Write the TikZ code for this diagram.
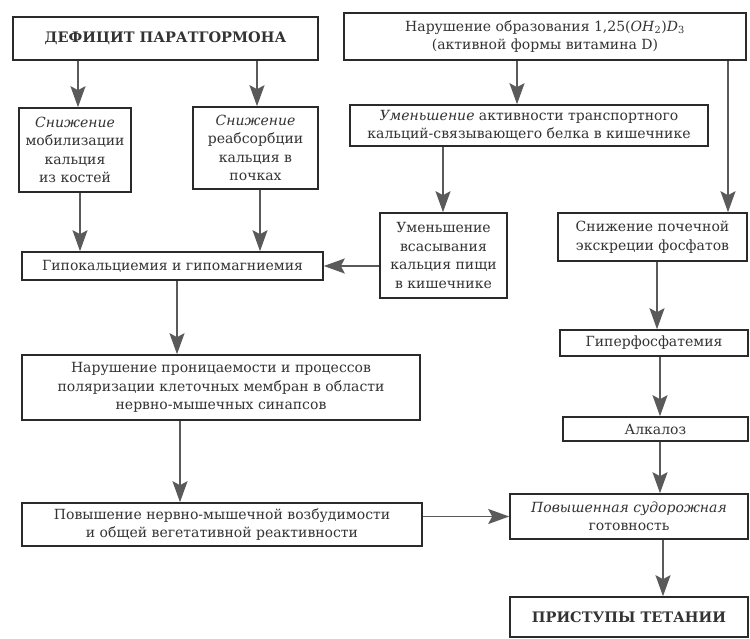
\documentclass[tikz,border=0pt]{standalone}
\usepackage{fontspec}
\setmainfont{DejaVu Serif}
\usetikzlibrary{arrows.meta}
\definecolor{ink}{HTML}{333333}
\definecolor{frame}{HTML}{2A2A2A}
\definecolor{arrowgray}{HTML}{5A5A5A}
\tikzset{
  box/.style={draw=frame, line width=1.6pt, inner sep=0pt, align=center,
    text=ink, font=\fontsize{14}{18.5}\selectfont},
  title/.style={box, font=\fontsize{14.5}{18.5}\selectfont\bfseries},
  arr/.style={draw=arrowgray, line width=1.8pt,
    -{Stealth[length=21pt, width=15pt, inset=4pt, fill=arrowgray]}},
}
\begin{document}
\begin{tikzpicture}[x=1pt, y=-1pt]
\useasboundingbox (0,0) rectangle (750,638);
\fill[white] (0,0) rectangle (750,638);

% --- boxes ---
\node[title, minimum width=305, minimum height=43] (A) at (165.5,38.5) {ДЕФИЦИТ ПАРАТГОРМОНА};
\node[box, minimum width=402, minimum height=47] (B) at (545,36.5)
  {Нарушение образования 1,25(\textit{OH}\textsubscript{2})\textit{D}\textsubscript{3}\\(активной формы витамина D)};
\node[box, minimum width=112, minimum height=84] (C) at (75,150)
  {\textit{Снижение}\\мобилизации\\кальция\\из костей};
\node[box, minimum width=125, minimum height=82] (D) at (255.5,148)
  {\textit{Снижение}\\реабсорбции\\кальция в\\почках};
\node[box, minimum width=358, minimum height=41] (E) at (529,125.5)
  {\textit{Уменьшение} активности транспортного\\кальций-связывающего белка в кишечнике};
\node[box, minimum width=127, minimum height=85] (F) at (443.5,255.5)
  {Уменьшение\\всасывания\\кальция пищи\\в кишечнике};
\node[box, minimum width=189, minimum height=48] (G) at (652.5,237)
  {Снижение почечной\\экскреции фосфатов};
\node[box, minimum width=301, minimum height=28] (H) at (172.5,266)
  {Гипокальциемия и гипомагниемия};
\node[box, minimum width=188, minimum height=26] (I) at (654,343)
  {Гиперфосфатемия};
\node[box, minimum width=398, minimum height=65] (J) at (221,387.5)
  {Нарушение проницаемости и процессов\\поляризации клеточных мембран в области\\нервно-мышечных синапсов};
\node[box, minimum width=185, minimum height=24] (K) at (655.5,429)
  {Алкалоз};
\node[box, minimum width=400, minimum height=43] (L) at (222,524.5)
  {Повышение нервно-мышечной возбудимости\\и общей вегетативной реактивности};
\node[box, minimum width=238, minimum height=45] (M) at (629,516.5)
  {\textit{Повышенная судорожная}\\готовность};
\node[title, minimum width=238, minimum height=40] (N) at (629,617)
  {ПРИСТУПЫ ТЕТАНИИ};

% --- connector columns ---
\coordinate (x78) at (78,0);
\coordinate (x257) at (257,0);
\coordinate (x80) at (80,0);
\coordinate (x260) at (260,0);
\coordinate (x517) at (517,0);
\coordinate (x728) at (728,0);
\coordinate (x443) at (443,0);
\coordinate (x177) at (177,0);
\coordinate (x180) at (180,0);
\coordinate (x657) at (657,0);
\coordinate (x660) at (660,0);
\coordinate (x663) at (663,0);

% --- connectors ---
\draw[arr] (A.south -| x78) -- (C.north -| x78);
\draw[arr] (A.south -| x257) -- (D.north -| x257);
\draw[arr] (B.south -| x517) -- (E.north -| x517);
\draw[arr] (B.south -| x728) -- (G.north -| x728);
\draw[arr] (E.south -| x443) -- (F.north -| x443);
\draw[arr] (C.south -| x80) -- (H.north -| x80);
\draw[arr] (D.south -| x260) -- (H.north -| x260);
\draw[arr] (F.west |- H.east) -- (H.east);
\draw[arr] (H.south -| x177) -- (J.north -| x177);
\draw[arr] (J.south -| x180) -- (L.north -| x180);
\draw[arr] (G.south -| x657) -- (I.north -| x657);
\draw[arr] (I.south -| x660) -- (K.north -| x660);
\draw[arr] (K.south -| x660) -- (M.north -| x660);
\draw[arr] (L.east |- M.west) -- (M.west);
\draw[arr] (M.south -| x663) -- (N.north -| x663);
\end{tikzpicture}
\end{document}
